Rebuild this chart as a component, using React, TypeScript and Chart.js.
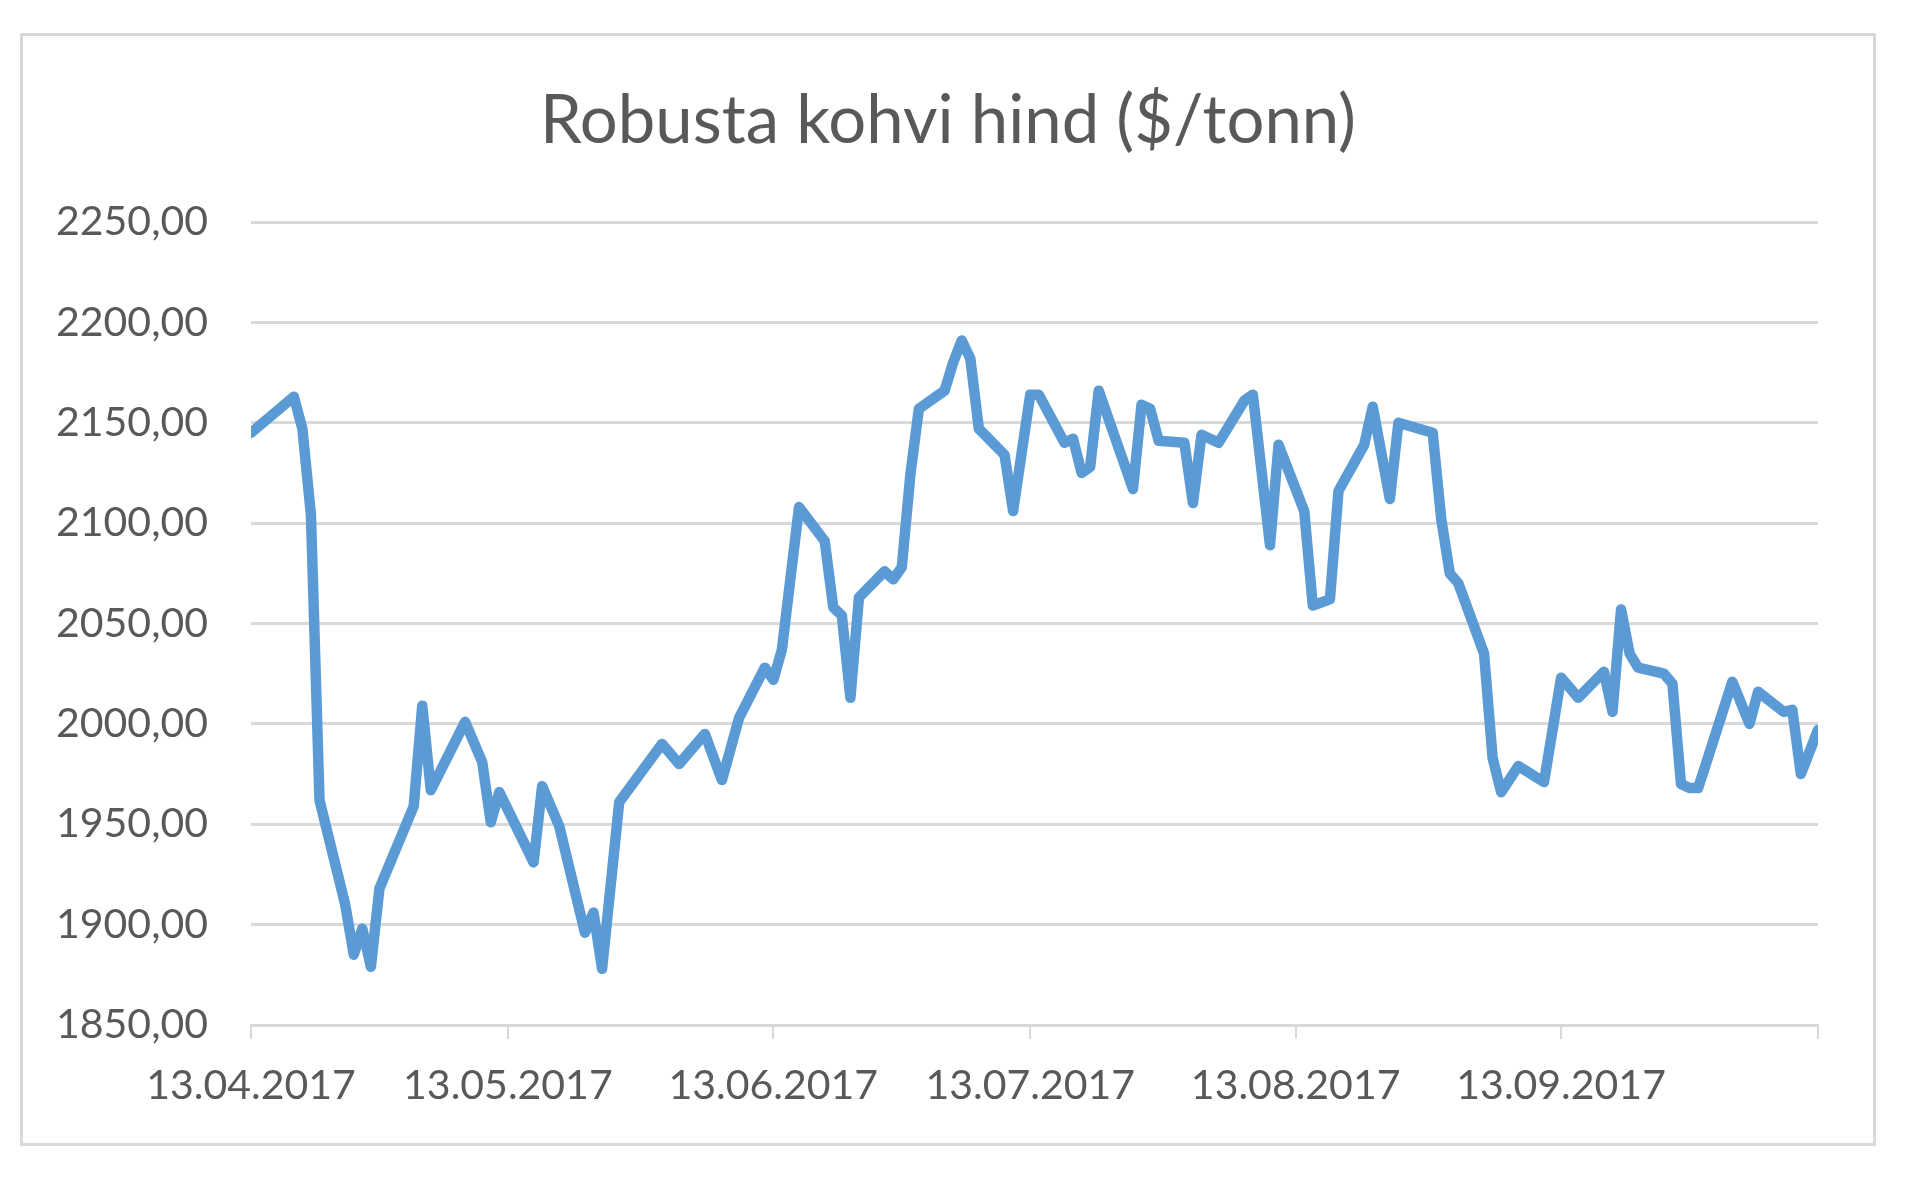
import React, { useEffect, useRef } from 'react';
import { Chart, registerables } from 'chart.js';

Chart.register(...registerables);

const TITLE = 'Robusta kohvi hind ($/tonn)';
const START_DATE = '13.04.2017';
const END_DATE = '13.10.2017';
const X_TICK_DATES = ['13.04.2017', '13.05.2017', '13.06.2017', '13.07.2017', '13.08.2017', '13.09.2017'];
const Y_MIN = 1850;
const Y_MAX = 2250;
const Y_STEP = 50;

const DATES = [
  '13.04.2017', '18.04.2017', '19.04.2017', '20.04.2017', '21.04.2017', '24.04.2017', '25.04.2017',
  '26.04.2017', '27.04.2017', '28.04.2017', '02.05.2017', '03.05.2017', '04.05.2017', '08.05.2017',
  '10.05.2017', '11.05.2017', '12.05.2017', '16.05.2017', '17.05.2017', '19.05.2017', '22.05.2017',
  '23.05.2017', '24.05.2017', '26.05.2017', '31.05.2017', '02.06.2017', '05.06.2017', '07.06.2017',
  '09.06.2017', '12.06.2017', '13.06.2017', '14.06.2017', '16.06.2017', '19.06.2017', '20.06.2017',
  '21.06.2017', '22.06.2017', '23.06.2017', '26.06.2017', '27.06.2017', '28.06.2017', '29.06.2017',
  '30.06.2017', '03.07.2017', '04.07.2017', '05.07.2017', '06.07.2017', '07.07.2017', '10.07.2017',
  '11.07.2017', '13.07.2017', '14.07.2017', '17.07.2017', '18.07.2017', '19.07.2017', '20.07.2017',
  '21.07.2017', '25.07.2017', '26.07.2017', '27.07.2017', '28.07.2017', '31.07.2017', '01.08.2017',
  '02.08.2017', '04.08.2017', '07.08.2017', '08.08.2017', '10.08.2017', '11.08.2017', '14.08.2017',
  '15.08.2017', '17.08.2017', '18.08.2017', '21.08.2017', '22.08.2017', '24.08.2017', '25.08.2017',
  '29.08.2017', '30.08.2017', '31.08.2017', '01.09.2017', '04.09.2017', '05.09.2017', '06.09.2017',
  '08.09.2017', '11.09.2017', '13.09.2017', '15.09.2017', '18.09.2017', '19.09.2017', '20.09.2017',
  '21.09.2017', '22.09.2017', '25.09.2017', '26.09.2017', '27.09.2017', '28.09.2017', '29.09.2017',
  '03.10.2017', '05.10.2017', '06.10.2017', '09.10.2017', '10.10.2017', '11.10.2017', '13.10.2017',
];

const PRICES = [
  2145, 2163, 2147, 2104, 1962, 1910, 1885,
  1898, 1879, 1918, 1959, 2009, 1967, 2001,
  1981, 1951, 1966, 1931, 1969, 1949, 1896,
  1906, 1878, 1961, 1990, 1980, 1995, 1972,
  2003, 2028, 2022, 2037, 2108, 2091, 2058,
  2054, 2013, 2063, 2076, 2072, 2078, 2124,
  2157, 2166, 2180, 2191, 2182, 2147, 2134,
  2106, 2164, 2164, 2140, 2142, 2125, 2128,
  2166, 2117, 2159, 2157, 2141, 2140, 2110,
  2144, 2140, 2161, 2164, 2089, 2139, 2106,
  2059, 2062, 2116, 2139, 2158, 2112, 2150,
  2145, 2102, 2075, 2070, 2035, 1983, 1966,
  1979, 1971, 2023, 2013, 2026, 2006, 2057,
  2035, 2028, 2025, 2020, 1970, 1968, 1968,
  2021, 2000, 2016, 2006, 2007, 1975, 1997,
];

const DAY_MS = 86400000;
function parseDate(s: string): number {
  const [d, m, y] = s.split('.').map(Number);
  return Date.UTC(y, m - 1, d);
}
const T0 = parseDate(START_DATE);
function toDay(s: string): number {
  return Math.round((parseDate(s) - T0) / DAY_MS);
}

const TEXT_COLOR = '#595959';
const GRID_COLOR = '#d9d9d9';
const LINE_COLOR = '#5b9bd5';
const FONT = 'Lato';

const titlePlugin = {
  id: 'centeredTitle',
  afterDraw(chart: any) {
    const ctx = chart.ctx;
    ctx.save();
    ctx.font = `normal 67px ${FONT}`;
    ctx.fillStyle = TEXT_COLOR;
    ctx.textAlign = 'center';
    ctx.textBaseline = 'middle';
    ctx.fillText(TITLE, 948, 121);
    ctx.restore();
  },
};

export default function App() {
  const ref = useRef<HTMLCanvasElement | null>(null);

  useEffect(() => {
    if (!ref.current) return;
    const points = DATES.map((d, i) => ({ x: toDay(d), y: PRICES[i] }));
    const tickDays = X_TICK_DATES.map(toDay);
    const endDay = toDay(END_DATE);

    const chart = new Chart(ref.current, {
      type: 'line',
      data: {
        datasets: [
          {
            data: points,
            borderColor: LINE_COLOR,
            borderWidth: 10.5,
            pointRadius: 0,
            tension: 0,
            borderCapStyle: 'round',
            borderJoinStyle: 'round',
            fill: false,
          },
        ],
      },
      plugins: [titlePlugin],
      options: {
        responsive: false,
        animation: false,
        devicePixelRatio: 1,
        layout: { padding: { left: 40, right: 102, top: 222, bottom: 0 } },
        plugins: {
          legend: { display: false },
          tooltip: { enabled: false },
          title: { display: false },
        },
        scales: {
          x: {
            type: 'linear',
            min: 0,
            max: endDay,
            afterBuildTicks: (scale: any) => {
              scale.ticks = [...tickDays, endDay].map((v) => ({ value: v }));
            },
            afterFit: (scale: any) => {
              scale.height = 155;
            },
            ticks: {
              autoSkip: false,
              maxRotation: 0,
              minRotation: 0,
              color: TEXT_COLOR,
              font: { family: FONT, size: 41 },
              padding: 22,
              callback: (value: any) => {
                const i = tickDays.indexOf(Number(value));
                return i >= 0 ? X_TICK_DATES[i] : '';
              },
            },
            grid: {
              drawOnChartArea: false,
              drawTicks: true,
              tickLength: 14,
              color: GRID_COLOR,
              lineWidth: 2,
            },
            border: { display: true, color: GRID_COLOR, width: 3 },
          },
          y: {
            min: Y_MIN,
            max: Y_MAX,
            afterFit: (scale: any) => {
              scale.width = 211;
            },
            ticks: {
              stepSize: Y_STEP,
              color: TEXT_COLOR,
              font: { family: FONT, size: 41 },
              padding: 43,
              callback: (value: any) => Number(value).toFixed(2).replace('.', ','),
            },
            grid: {
              color: GRID_COLOR,
              lineWidth: 3,
              drawTicks: false,
            },
            border: { display: false },
          },
        },
      },
    });
    return () => chart.destroy();
  }, []);

  return (
    <div style={{ position: 'absolute', left: 0, top: 0, width: 1920, height: 1180, background: '#ffffff' }}>
      <canvas ref={ref} width={1920} height={1180} style={{ position: 'absolute', left: 0, top: 0 }} />
      <div
        style={{
          position: 'absolute',
          left: 20,
          top: 33,
          width: 1856,
          height: 1113,
          boxSizing: 'border-box',
          border: `3px solid ${GRID_COLOR}`,
          pointerEvents: 'none',
        }}
      />
    </div>
  );
}
